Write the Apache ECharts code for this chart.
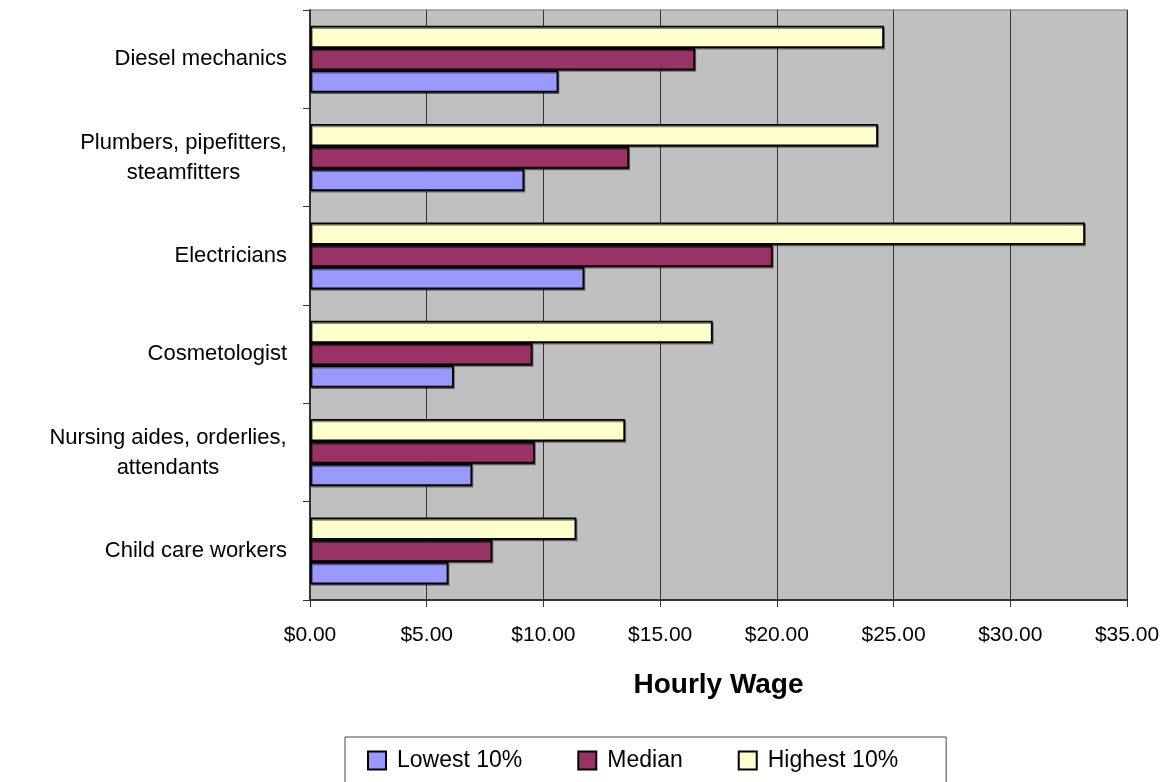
<!DOCTYPE html>
<html>
<head>
<meta charset="utf-8">
<script src="https://cdn.jsdelivr.net/npm/echarts@6/dist/echarts.min.js"></script>
<style>
  html, body { margin: 0; padding: 0; background: #fff; }
  #chart { width: 1167px; height: 782px; }
</style>
</head>
<body>
<div id="chart"></div>
<script>
// occupations, top to bottom as drawn
const occupations = [
  'Diesel mechanics',
  'Plumbers, pipefitters,\nsteamfitters',
  'Electricians',
  'Cosmetologist',
  'Nursing aides, orderlies,\nattendants',
  'Child care workers'
]
const seriesNames = ['Lowest 10%', 'Median', 'Highest 10%']
const lowest10 = [10.64, 9.18, 11.75, 6.16, 6.95, 5.93]
const median = [16.5, 13.67, 19.82, 9.53, 9.63, 7.81]
const highest10 = [24.59, 24.33, 33.2, 17.25, 13.5, 11.41]
const wageTicks = ['$0.00', '$5.00', '$10.00', '$15.00', '$20.00', '$25.00', '$30.00', '$35.00']

const FONT = 'Liberation Sans'
const LABEL_SIZE = 22
const chart = echarts.init(document.getElementById('chart'))

// two-line labels: lines centred on each other, block right-aligned (like Excel)
const ctx = document.createElement('canvas').getContext('2d')
ctx.font = `${LABEL_SIZE}px "${FONT}"`
const rich = {}
occupations.forEach((name, i) => {
  const lines = name.split('\n')
  if (lines.length > 1) {
    rich['c' + i] = {
      width: Math.ceil(Math.max(...lines.map(l => ctx.measureText(l).width))),
      align: 'center',
      fontSize: LABEL_SIZE,
      fontFamily: FONT,
      lineHeight: 30,
      color: '#000'
    }
  }
})

const barStyle = color => ({
  color,
  borderColor: '#000',
  borderWidth: 1.8,
  shadowColor: 'rgba(0,0,0,0.45)',
  shadowOffsetX: 1,
  shadowOffsetY: 1.5
})

chart.setOption({
  animation: false,
  backgroundColor: '#fff',
  grid: {
    left: 310,
    right: 40,
    top: 10,
    bottom: 182,
    show: true,
    backgroundColor: '#C0C0C0',
    borderColor: '#999',
    borderWidth: 1.5
  },
  legend: {
    left: 345,
    top: 737,
    orient: 'horizontal',
    padding: [12, 48, 30, 22],
    borderColor: '#444',
    borderWidth: 1,
    itemWidth: 18,
    itemHeight: 18,
    itemGap: 55,
    icon: 'rect',
    data: seriesNames,
    textStyle: {
      fontFamily: FONT,
      fontSize: 23,
      color: '#000',
      padding: [0, 0, 0, 6]
    }
  },
  xAxis: {
    type: 'value',
    min: 0,
    max: 35,
    interval: 5,
    name: 'Hourly Wage',
    nameLocation: 'middle',
    nameGap: 71,
    nameTextStyle: {
      fontFamily: FONT,
      fontSize: 28,
      fontWeight: 'bold',
      color: '#000'
    },
    axisLine: { show: true, lineStyle: { color: '#333', width: 2 } },
    axisTick: { show: true, length: 7, lineStyle: { color: '#333', width: 1 } },
    axisLabel: {
      margin: 25,
      fontFamily: FONT,
      fontSize: 21,
      color: '#000',
      formatter: v => wageTicks[Math.round(v / 5)]
    },
    splitLine: { show: true, lineStyle: { color: '#333', width: 1 } }
  },
  yAxis: {
    type: 'category',
    data: occupations,
    inverse: true,
    axisLine: { show: true, lineStyle: { color: '#333', width: 2 } },
    axisTick: { show: true, length: 7, lineStyle: { color: '#333', width: 1 } },
    axisLabel: {
      margin: 23,
      align: 'right',
      fontFamily: FONT,
      fontSize: LABEL_SIZE,
      lineHeight: 30,
      color: '#000',
      rich,
      formatter: (value, index) => {
        const lines = value.split('\n')
        return lines.length > 1 ? lines.map(l => `{c${index}|${l}}`).join('\n') : value
      }
    },
    splitLine: { show: false }
  },
  series: [
    {
      name: 'Highest 10%',
      type: 'bar',
      data: highest10,
      barGap: '0%',
      barCategoryGap: '32%',
      itemStyle: barStyle('#FFFFCC')
    },
    {
      name: 'Median',
      type: 'bar',
      data: median,
      barGap: '0%',
      barCategoryGap: '32%',
      itemStyle: barStyle('#993366')
    },
    {
      name: 'Lowest 10%',
      type: 'bar',
      data: lowest10,
      barGap: '0%',
      barCategoryGap: '32%',
      itemStyle: barStyle('#9999FF')
    }
  ]
})

window.addEventListener('resize', () => chart.resize())
</script>
</body>
</html>
